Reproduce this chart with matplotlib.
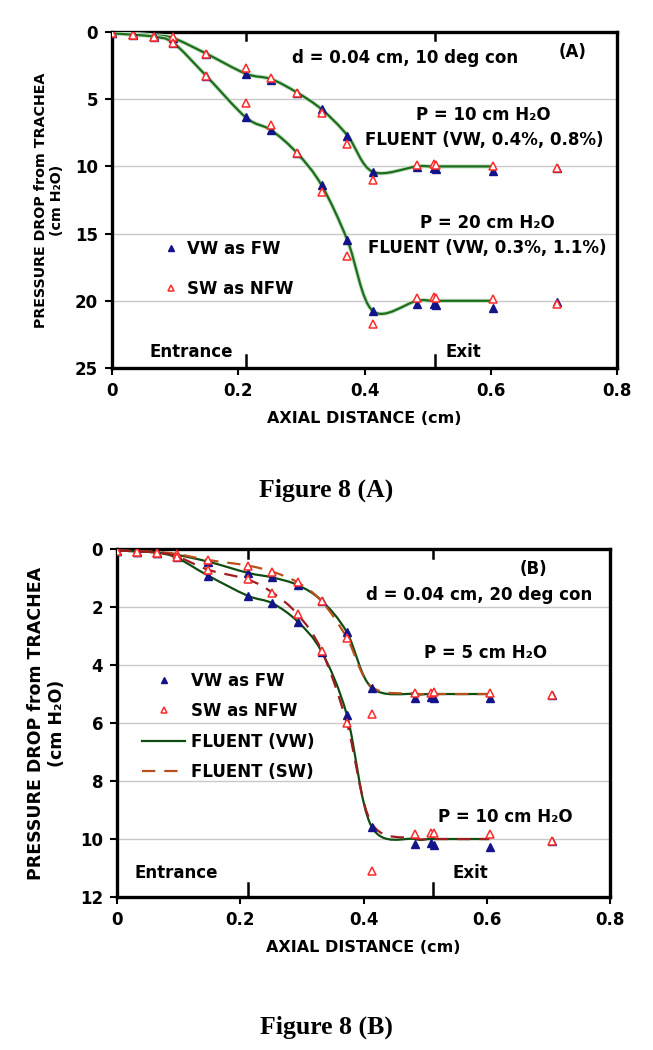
import numpy as np
import matplotlib.pyplot as plt
from matplotlib.path import Path
from matplotlib.patches import PathPatch
from matplotlib.lines import Line2D
import matplotlib.patheffects as pe

# ---- data ----
# measured points (both panels use the same axial stations)
x_a = [0, 0.033, 0.066, 0.097, 0.149, 0.212, 0.252, 0.293, 0.332, 0.373, 0.413, 0.483, 0.510, 0.514, 0.604, 0.705]
vw10_a = [0.1, 0.15, 0.3, 0.45, 1.6, 3.1, 3.55, 4.5, 5.75, 7.75, 10.4, 10.05, 10.15, 10.2, 10.35, 10.1]
sw10_a = [0.1, 0.2, 0.35, 0.4, 1.65, 2.65, 3.45, 4.5, 6.0, 8.35, 11.0, 9.9, 9.85, 9.9, 9.95, 10.1]
vw20_a = [0.1, 0.2, 0.35, 0.85, 3.25, 6.35, 7.3, 9.0, 11.4, 15.5, 20.75, 20.25, 20.25, 20.3, 20.55, 20.1]
sw20_a = [0.1, 0.2, 0.4, 0.85, 3.3, 5.3, 6.95, 9.0, 11.9, 16.7, 21.75, 19.8, 19.75, 19.8, 19.85, 20.25]

# FLUENT curves (smoothed lines through these nodes)
xf = [0, 0.033, 0.066, 0.097, 0.149, 0.212, 0.252, 0.293, 0.332, 0.373, 0.413, 0.483, 0.512, 0.604]
fl10_a = [0.1, 0.15, 0.25, 0.45, 1.6, 3.1, 3.5, 4.5, 5.75, 7.7, 10.4, 10.0, 10.0, 10.0]
fl20_a = [0.1, 0.2, 0.35, 0.8, 3.25, 6.35, 7.3, 9.0, 11.4, 15.5, 20.75, 20.0, 20.0, 20.0]

x_b = [0, 0.032, 0.065, 0.097, 0.148, 0.212, 0.252, 0.293, 0.333, 0.373, 0.413, 0.483, 0.510, 0.514, 0.606, 0.706]
vw5_b = [0.08, 0.1, 0.13, 0.2, 0.44, 0.82, 0.98, 1.24, 1.78, 2.87, 4.78, 5.15, 5.1, 5.12, 5.15, 5.02]
sw5_b = [0.08, 0.1, 0.15, 0.17, 0.38, 0.57, 0.78, 1.15, 1.8, 3.06, 5.7, 4.98, 4.95, 4.93, 4.98, 5.02]
vw10_b = [0.08, 0.1, 0.15, 0.29, 0.93, 1.61, 1.87, 2.5, 3.54, 5.72, 9.57, 10.17, 10.15, 10.2, 10.26, 10.06]
sw10_b = [0.08, 0.1, 0.15, 0.29, 0.72, 1.05, 1.5, 2.25, 3.5, 6.0, 11.1, 9.83, 9.8, 9.78, 9.84, 10.06]

flvw5_b = [0.05, 0.08, 0.12, 0.2, 0.44, 0.82, 0.98, 1.24, 1.78, 2.87, 4.78, 5.0, 5.0, 5.0]
flsw5_b = [0.05, 0.07, 0.1, 0.17, 0.38, 0.57, 0.78, 1.15, 1.8, 3.06, 4.75, 4.98, 5.0, 5.0]
flvw10_b = [0.05, 0.08, 0.13, 0.3, 0.93, 1.61, 1.87, 2.5, 3.54, 5.72, 9.57, 10.0, 10.0, 10.0]
flsw10_b = [0.05, 0.08, 0.12, 0.25, 0.72, 1.05, 1.5, 2.25, 3.5, 6.0, 9.45, 9.97, 10.0, 10.0]

entrance_x = 0.212
exit_x = 0.512
xticks = [0, 0.2, 0.4, 0.6, 0.8]
yticks_a = [0, 5, 10, 15, 20, 25]
yticks_b = [0, 2, 4, 6, 8, 10, 12]

NAVY = '#14148a'
RED = '#ff2a2a'
GREEN_A = '#1c6e1c'
GREEN_B = '#0f4d12'
DASH5 = '#b8501c'
DASH10 = '#a01c20'

plt.rcParams['font.family'] = 'DejaVu Sans'
plt.rcParams['font.weight'] = 'bold'


def smooth_path(xs, ys):
    # excel-like smoothed line: cubic bezier segments through the nodes
    pts = np.column_stack([xs, ys]).astype(float)
    n = len(pts)
    verts = [pts[0]]
    codes = [Path.MOVETO]
    for i in range(n - 1):
        p0 = pts[i - 1] if i > 0 else pts[i]
        p1 = pts[i]
        p2 = pts[i + 1]
        p3 = pts[i + 2] if i + 2 < n else pts[i + 1]
        verts += [p1 + (p2 - p0) / 6, p2 - (p3 - p1) / 6, p2]
        codes += [Path.CURVE4] * 3
    return Path(verts, codes)


def add_curve(ax, xs, ys, color, lw=1.6, dashes=None, glow=None):
    patch = PathPatch(smooth_path(xs, ys), fill=False, edgecolor=color, lw=lw,
                      transform=ax.transData, zorder=3, capstyle='butt')
    if dashes:
        patch.set_linestyle((0, dashes))
    if glow:
        patch.set_path_effects([pe.Stroke(linewidth=lw + 1.4, foreground=glow), pe.Normal()])
    ax.add_patch(patch)


def style_axes(ax, ymax, yticks):
    ax.set_xlim(0, 0.8)
    ax.set_ylim(ymax, 0)
    ax.set_xticks(xticks)
    ax.set_xticklabels(['0', '0.2', '0.4', '0.6', '0.8'])
    ax.set_yticks(yticks)
    ax.tick_params(labelsize=12, width=1.5, length=5, direction='out', pad=5)
    ax.yaxis.grid(True, color='#c8c8c8', lw=1)
    ax.set_axisbelow(True)
    for s in ax.spines.values():
        s.set_linewidth(2.4)
    ax.set_xlabel('AXIAL DISTANCE (cm)', fontsize=11.5, fontweight='bold', labelpad=8)
    # entrance / exit markers on the top and bottom spines
    for xv in (entrance_x, exit_x):
        ax.axvline(xv, ymin=0, ymax=0.04, color='black', lw=1.8)
        ax.axvline(xv, ymin=0.975, ymax=1, color='black', lw=1.8)


def add_points(ax, x, vw, sw, ms):
    ax.plot(x, vw, ls='none', marker='^', ms=ms, mfc=NAVY, mec=NAVY, zorder=4)
    ax.plot(x, sw, ls='none', marker='^', ms=ms, mfc='white', mec=RED, mew=1.1, zorder=5)


fig = plt.figure(figsize=(6.53, 10.5), dpi=100)

tk = dict(fontsize=12, fontweight='bold', ha='center', va='center')
leg_font = dict(size=12, weight='bold')

# ---------------- panel A ----------------
ax1 = fig.add_axes([0.1715, 0.6495, 0.7734, 0.32])
style_axes(ax1, 25, yticks_a)
add_curve(ax1, xf, fl10_a, GREEN_A, glow='#c4dfc4')
add_curve(ax1, xf, fl20_a, GREEN_A, glow='#c4dfc4')
add_points(ax1, x_a, vw10_a, sw10_a, 5.5)
add_points(ax1, x_a, vw20_a, sw20_a, 5.5)
ax1.set_ylabel('PRESSURE DROP from TRACHEA\n(cm H\u2082O)', fontsize=10.3, fontweight='bold', labelpad=8)

ax1.text(0.464, 1.9, 'd = 0.04 cm, 10 deg con', **tk)
ax1.text(0.73, 1.5, '(A)', **tk)
ax1.text(0.588, 6.2, 'P = 10 cm H\u2082O', **tk)
ax1.text(0.59, 8.0, 'FLUENT (VW, 0.4%, 0.8%)', **tk)
ax1.text(0.594, 14.2, 'P = 20 cm H\u2082O', **tk)
ax1.text(0.594, 16.1, 'FLUENT (VW, 0.3%, 1.1%)', **tk)
ax1.text(0.125, 23.8, 'Entrance', **tk)
ax1.text(0.556, 23.8, 'Exit', **tk)

h_vw = Line2D([], [], ls='none', marker='^', ms=5, mfc=NAVY, mec=NAVY)
h_sw = Line2D([], [], ls='none', marker='^', ms=5, mfc='white', mec=RED, mew=1.1)
ax1.legend([h_vw, h_sw], ['VW as FW', 'SW as NFW'], loc='center left',
           bbox_to_anchor=(0.07, 0.295), frameon=False, prop=leg_font,
           labelspacing=1.35, handlelength=1.0, handletextpad=0.5)

fig.text(0.5, 1 - 490 / 1050, 'Figure 8 (A)', family='Liberation Serif', fontsize=18.5,
         fontweight='bold', ha='center', va='center')

# ---------------- panel B ----------------
ax2 = fig.add_axes([0.1792, 0.1457, 0.755, 0.3314])
style_axes(ax2, 12, yticks_b)
add_curve(ax2, xf, flvw5_b, GREEN_B)
add_curve(ax2, xf, flvw10_b, GREEN_B)
add_curve(ax2, xf, flsw5_b, DASH5, dashes=(6, 4))
add_curve(ax2, xf, flsw10_b, DASH10, dashes=(6, 4))
add_points(ax2, x_b, vw5_b, sw5_b, 5.5)
add_points(ax2, x_b, vw10_b, sw10_b, 5.5)
ax2.set_ylabel('PRESSURE DROP from TRACHEA\n(cm H\u2082O)', fontsize=12.5, fontweight='bold', labelpad=10)

ax2.text(0.676, 0.7, '(B)', **tk)
ax2.text(0.587, 1.6, 'd = 0.04 cm, 20 deg con', **tk)
ax2.text(0.598, 3.6, 'P = 5 cm H\u2082O', **tk)
ax2.text(0.63, 9.23, 'P = 10 cm H\u2082O', **tk)
ax2.text(0.096, 11.17, 'Entrance', **tk)
ax2.text(0.573, 11.17, 'Exit', **tk)

h_flvw = Line2D([], [], color=GREEN_B, lw=1.6)
h_flsw = Line2D([], [], color=DASH5, lw=1.6, dashes=(6, 4))
ax2.legend([h_vw, h_sw, h_flvw, h_flsw], ['VW as FW', 'SW as NFW', 'FLUENT (VW)', 'FLUENT (SW)'],
           loc='center left', bbox_to_anchor=(0.02, 0.49), frameon=False,
           prop=leg_font, labelspacing=0.75, handlelength=2.6, handletextpad=0.35)

fig.text(0.5, 1 - 1027 / 1050, 'Figure 8 (B)', family='Liberation Serif', fontsize=18.5,
         fontweight='bold', ha='center', va='center')

fig.savefig('out.png', dpi=100)
